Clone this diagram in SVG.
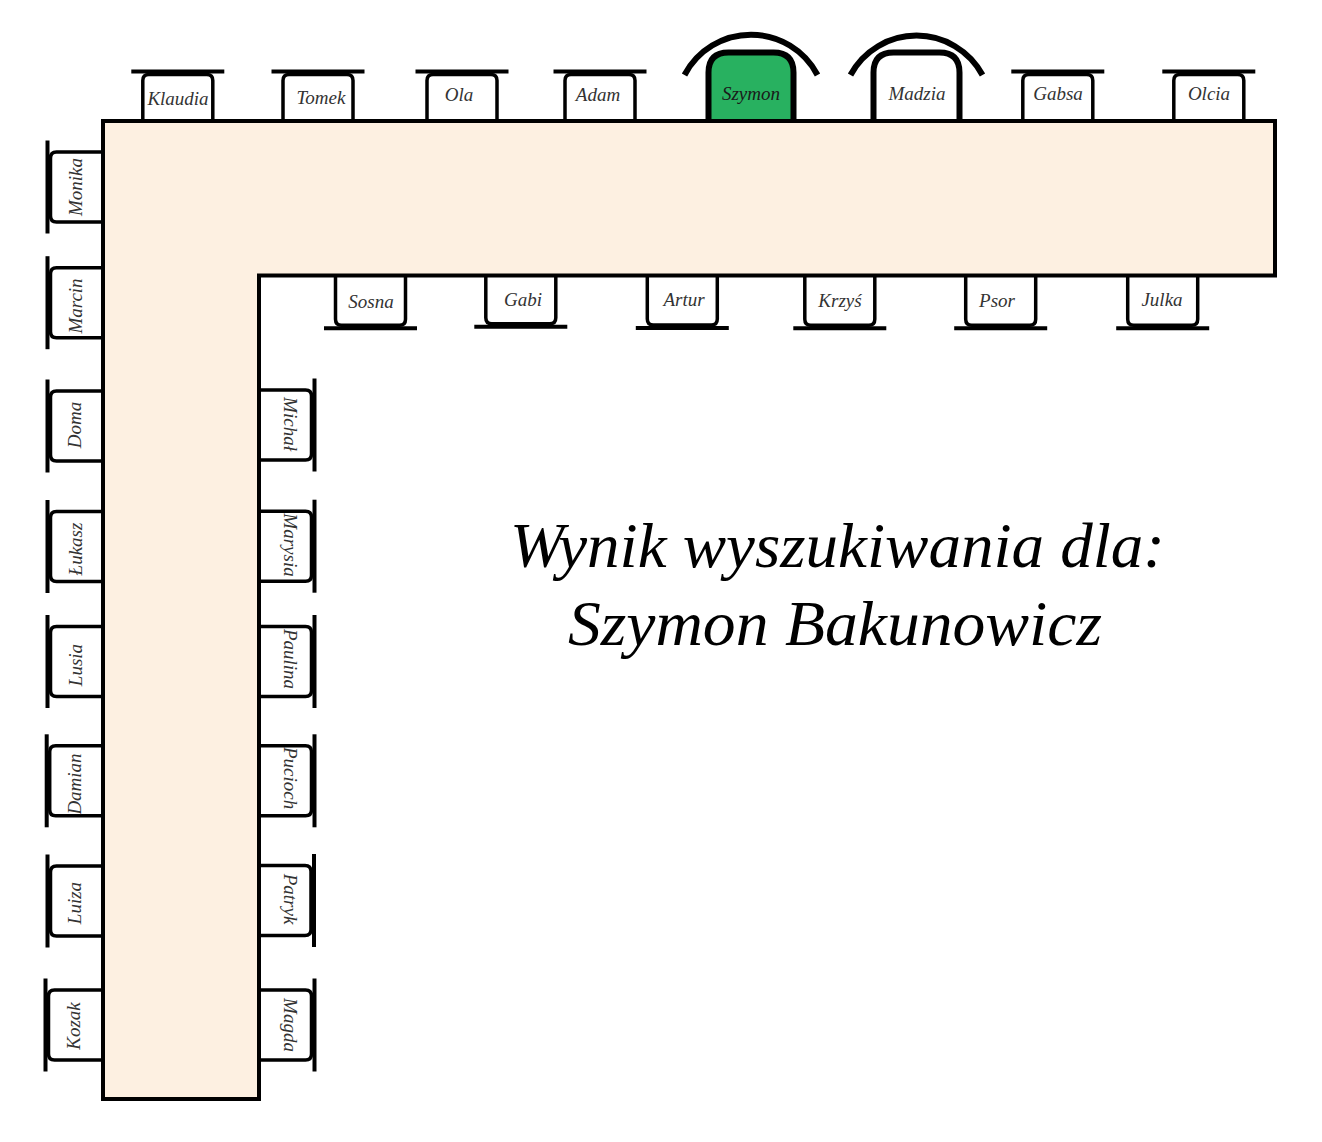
<svg xmlns="http://www.w3.org/2000/svg" xmlns:xlink="http://www.w3.org/1999/xlink" width="1322" height="1142" viewBox="0 0 1322 1142">
<style>
.lbl{font-family:"Liberation Serif","Times New Roman",serif;font-style:italic;font-size:19px;fill:#333;text-anchor:middle}
.title{font-family:"Liberation Serif","Times New Roman",serif;font-style:italic;font-size:64px;fill:#000;text-anchor:middle}
.table{fill:#fdf0e1;stroke:#000;stroke-width:4;stroke-linejoin:miter}
.arc{fill:none;stroke:#000;stroke-width:6}
.big{stroke:#000;stroke-width:6}
</style>
<defs>
<g id="chair">
<path d="M -35 62 V 9 Q -35 3 -29 3 H 29 Q 35 3 35 9 V 62" fill="#fff" stroke="#000" stroke-width="3.5"/>
<line x1="-46.5" y1="0" x2="46.5" y2="0" stroke="#000" stroke-width="4"/>
</g>
</defs>
<rect width="1322" height="1142" fill="#fff"/>

<g id="chairs-top">
<g id="chair-klaudia"><use xlink:href="#chair" transform="translate(177.8,71.5)"/><text class="lbl" x="178" y="105">Klaudia</text></g>
<g id="chair-tomek"><use xlink:href="#chair" transform="translate(318,71.5)"/><text class="lbl" x="321" y="104">Tomek</text></g>
<g id="chair-ola"><use xlink:href="#chair" transform="translate(462,71.5)"/><text class="lbl" x="459" y="101">Ola</text></g>
<g id="chair-adam"><use xlink:href="#chair" transform="translate(600,71.5)"/><text class="lbl" x="598" y="101">Adam</text></g>
<g id="chair-szymon">
<path class="arc" d="M 684.5 75 A 75 75 0 0 1 817.5 75"/>
<path class="big" d="M 708.5 135 V 72.5 Q 708.5 52.5 728.5 52.5 H 773.5 Q 793.5 52.5 793.5 72.5 V 135" fill="#28b160"/>
<text class="lbl" x="751" y="100" style="fill:#1a1a1a">Szymon</text>
</g>
<g id="chair-madzia">
<path class="arc" d="M 850.5 75 A 75 75 0 0 1 982.5 75"/>
<path class="big" d="M 873.5 135 V 72.5 Q 873.5 52.5 893.5 52.5 H 939.5 Q 959.5 52.5 959.5 72.5 V 135" fill="#fff"/>
<text class="lbl" x="917" y="100">Madzia</text>
</g>
<g id="chair-gabsa"><use xlink:href="#chair" transform="translate(1057.8,71.5)"/><text class="lbl" x="1058" y="100">Gabsa</text></g>
<g id="chair-olcia"><use xlink:href="#chair" transform="translate(1208.8,71.5)"/><text class="lbl" x="1209" y="100">Olcia</text></g>
</g>

<g id="chairs-bottom">
<g id="chair-sosna"><use xlink:href="#chair" transform="translate(370.5,328.3) rotate(180)"/><text class="lbl" x="371" y="308">Sosna</text></g>
<g id="chair-gabi"><use xlink:href="#chair" transform="translate(520.8,326.7) rotate(180)"/><text class="lbl" x="523" y="306">Gabi</text></g>
<g id="chair-artur"><use xlink:href="#chair" transform="translate(682.3,328) rotate(180)"/><text class="lbl" x="684" y="306">Artur</text></g>
<g id="chair-krzys"><use xlink:href="#chair" transform="translate(839.8,328.3) rotate(180)"/><text class="lbl" x="840" y="307">Krzyś</text></g>
<g id="chair-psor"><use xlink:href="#chair" transform="translate(1000.7,328.3) rotate(180)"/><text class="lbl" x="997" y="307">Psor</text></g>
<g id="chair-julka"><use xlink:href="#chair" transform="translate(1162.7,328.3) rotate(180)"/><text class="lbl" x="1162" y="306">Julka</text></g>
</g>

<g id="chairs-left">
<g id="chair-monika"><use xlink:href="#chair" transform="translate(47.5,187) rotate(-90)"/><text class="lbl" transform="translate(82,187) rotate(-90)">Monika</text></g>
<g id="chair-marcin"><use xlink:href="#chair" transform="translate(47.5,302.7) rotate(-90)"/><text class="lbl" transform="translate(82,306) rotate(-90)">Marcin</text></g>
<g id="chair-doma"><use xlink:href="#chair" transform="translate(47.5,426) rotate(-90)"/><text class="lbl" transform="translate(81,425) rotate(-90)">Doma</text></g>
<g id="chair-lukasz"><use xlink:href="#chair" transform="translate(47.5,546.5) rotate(-90)"/><text class="lbl" transform="translate(82,549) rotate(-90)">Łukasz</text></g>
<g id="chair-lusia"><use xlink:href="#chair" transform="translate(47.5,661.5) rotate(-90)"/><text class="lbl" transform="translate(82,665) rotate(-90)">Lusia</text></g>
<g id="chair-damian"><use xlink:href="#chair" transform="translate(46.7,780.8) rotate(-90)"/><text class="lbl" transform="translate(81,784) rotate(-90)">Damian</text></g>
<g id="chair-luiza"><use xlink:href="#chair" transform="translate(47.5,901) rotate(-90)"/><text class="lbl" transform="translate(81,903) rotate(-90)">Luiza</text></g>
<g id="chair-kozak"><use xlink:href="#chair" transform="translate(45.5,1025) rotate(-90)"/><text class="lbl" transform="translate(80,1026) rotate(-90)">Kozak</text></g>
</g>

<g id="chairs-right">
<g id="chair-michal"><use xlink:href="#chair" transform="translate(314.5,425) rotate(90)"/><text class="lbl" transform="translate(284,424) rotate(90)">Michał</text></g>
<g id="chair-marysia"><use xlink:href="#chair" transform="translate(314.5,546.2) rotate(90)"/><text class="lbl" transform="translate(284,545) rotate(90)">Marysia</text></g>
<g id="chair-paulina"><use xlink:href="#chair" transform="translate(314.5,661.5) rotate(90)"/><text class="lbl" transform="translate(284,659) rotate(90)">Paulina</text></g>
<g id="chair-pucioch"><use xlink:href="#chair" transform="translate(314.5,780.8) rotate(90)"/><text class="lbl" transform="translate(284,778) rotate(90)">Pucioch</text></g>
<g id="chair-patryk"><use xlink:href="#chair" transform="translate(314,900.5) rotate(90)"/><text class="lbl" transform="translate(284,899) rotate(90)">Patryk</text></g>
<g id="chair-magda"><use xlink:href="#chair" transform="translate(314.5,1025) rotate(90)"/><text class="lbl" transform="translate(284,1025) rotate(90)">Magda</text></g>
</g>

<g id="table">
<path class="table" d="M 103 121 H 1275 V 275.5 H 259 V 1099 H 103 Z"/>
</g>

<g id="connectors"></g>

<g id="title">
<text class="title" x="837.5" y="567" textLength="655" lengthAdjust="spacingAndGlyphs">Wynik wyszukiwania dla:</text>
<text class="title" x="835" y="645" textLength="534" lengthAdjust="spacingAndGlyphs">Szymon Bakunowicz</text>
</g>
</svg>
